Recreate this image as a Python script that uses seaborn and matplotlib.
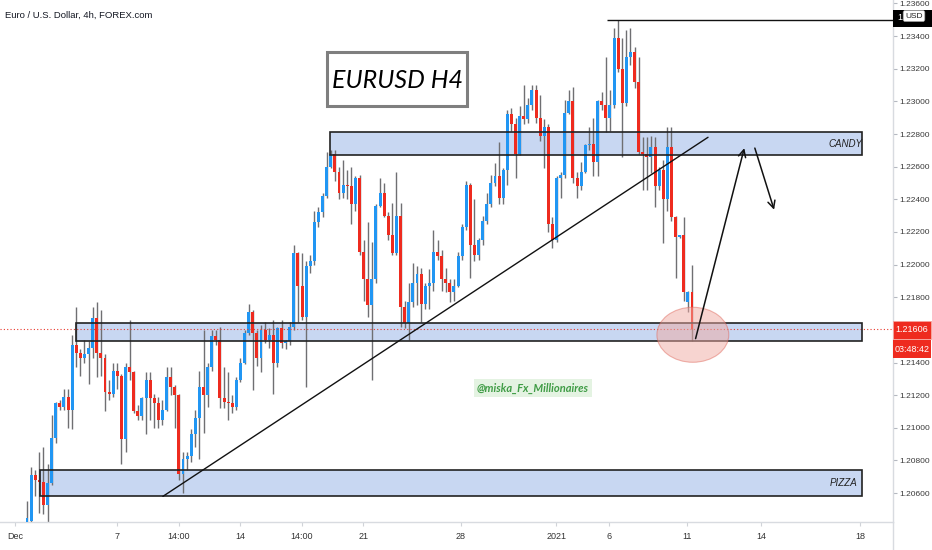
import matplotlib
matplotlib.use("Agg")
import matplotlib.pyplot as plt
import seaborn as sns
import numpy as np
import pandas as pd
from matplotlib.patches import Rectangle, Ellipse

# ---------------- data (EURUSD 4h candles) ----------------
opens = [1.2041,1.2043,1.2071,1.2068,1.2067,1.2053,1.2066,1.2094,1.2115,1.2113,
         1.2119,1.2111,1.2151,1.2146,1.2143,1.2145,1.2149,1.2167,1.2146,1.2143,
         1.2122,1.2121,1.2135,1.2132,1.2093,1.2137,1.2134,1.2110,1.2107,1.2118,
         1.2129,1.2118,1.2115,1.2105,1.2111,1.2131,1.2125,1.2120,1.2072,1.2081,
         1.2083,1.2096,1.2106,1.2125,1.2120,1.2137,1.2156,1.2154,1.2118,1.2116,
         1.2115,1.2113,1.2129,1.2140,1.2158,1.2171,1.2158,1.2143,1.2160,1.2154,
         1.2157,1.2140,1.2161,1.2152,1.2153,1.2162,1.2207,1.2187,1.2168,1.2199,
         1.2202,1.2226,1.2232,1.2242,1.2260,1.2268,1.2257,1.2244,1.2249,1.2248,
         1.2237,1.2253,1.2208,1.2191,1.2175,1.2191,1.2236,1.2244,1.2230,1.2218,
         1.2207,1.2230,1.2174,1.2164,1.2177,1.2189,1.2194,1.2176,1.2187,1.2189,
         1.2208,1.2205,1.2191,1.2189,1.2183,1.2187,1.2205,1.2223,1.2249,1.2212,
         1.2206,1.2215,1.2227,1.2237,1.2250,1.2254,1.2241,1.2258,1.2292,1.2286,
         1.2268,1.2291,1.2289,1.2298,1.2307,1.2290,1.2279,1.2284,1.2225,1.2215,
         1.2253,1.2255,1.2293,1.2300,1.2253,1.2248,1.2257,1.2273,1.2274,1.2263,
         1.2300,1.2298,1.2290,1.2298,1.2339,1.2320,1.2299,1.2327,1.2330,1.2312,
         1.2269,1.2268,1.2266,1.2272,1.2248,1.2258,1.2240,1.2272,1.2229,1.2217,
         1.2218,1.2177,1.2183]
highs = [1.2055,1.2076,1.2074,1.2085,1.2088,1.2078,1.2108,1.2116,1.2117,1.2124,
         1.2124,1.2157,1.2174,1.2148,1.2154,1.2153,1.2174,1.2177,1.2172,1.2145,
         1.2129,1.2140,1.2140,1.2133,1.2140,1.2166,1.2135,1.2114,1.2119,1.2134,
         1.2134,1.2121,1.2119,1.2117,1.2137,1.2137,1.2126,1.2121,1.2085,1.2085,
         1.2099,1.2111,1.2135,1.2160,1.2140,1.2160,1.2160,1.2162,1.2137,1.2134,
         1.2120,1.2131,1.2143,1.2160,1.2176,1.2172,1.2160,1.2163,1.2165,1.2161,
         1.2166,1.2162,1.2166,1.2154,1.2165,1.2212,1.2208,1.2207,1.2202,1.2206,
         1.2233,1.2235,1.2244,1.2269,1.2270,1.2270,1.2260,1.2264,1.2258,1.2260,
         1.2254,1.2255,1.2215,1.2226,1.2214,1.2237,1.2253,1.2250,1.2232,1.2238,
         1.2257,1.2238,1.2178,1.2189,1.2201,1.2199,1.2198,1.2189,1.2197,1.2221,
         1.2215,1.2209,1.2198,1.2191,1.2191,1.2208,1.2225,1.2251,1.2250,1.2240,
         1.2216,1.2230,1.2244,1.2255,1.2262,1.2275,1.2259,1.2295,1.2296,1.2290,
         1.2297,1.2310,1.2302,1.2310,1.2310,1.2304,1.2289,1.2286,1.2229,1.2254,
         1.2257,1.2301,1.2307,1.2309,1.2257,1.2263,1.2274,1.2284,1.2290,1.2301,
         1.2306,1.2327,1.2307,1.2345,1.2350,1.2339,1.2344,1.2345,1.2333,1.2327,
         1.2278,1.2278,1.2279,1.2278,1.2260,1.2264,1.2284,1.2284,1.2230,1.2218,
         1.2229,1.2184,1.2200]
lows = [1.2040,1.2042,1.2058,1.2048,1.2047,1.2042,1.2065,1.2091,1.2111,1.2111,
        1.2100,1.2099,1.2137,1.2132,1.2140,1.2127,1.2143,1.2131,1.2132,1.2110,
        1.2117,1.2119,1.2124,1.2078,1.2085,1.2129,1.2109,1.2105,1.2105,1.2096,
        1.2105,1.2100,1.2100,1.2102,1.2110,1.2120,1.2100,1.2068,1.2060,1.2074,
        1.2079,1.2088,1.2081,1.2097,1.2113,1.2135,1.2151,1.2112,1.2112,1.2105,
        1.2109,1.2111,1.2128,1.2139,1.2157,1.2123,1.2138,1.2134,1.2152,1.2149,
        1.2121,1.2137,1.2149,1.2148,1.2151,1.2160,1.2165,1.2166,1.2125,1.2195,
        1.2200,1.2223,1.2229,1.2241,1.2259,1.2251,1.2240,1.2241,1.2240,1.2225,
        1.2233,1.2206,1.2178,1.2168,1.2129,1.2189,1.2235,1.2229,1.2215,1.2206,
        1.2206,1.2162,1.2161,1.2154,1.2174,1.2175,1.2165,1.2173,1.2173,1.2184,
        1.2203,1.2184,1.2183,1.2177,1.2178,1.2186,1.2203,1.2221,1.2192,1.2202,
        1.2203,1.2212,1.2225,1.2235,1.2248,1.2237,1.2237,1.2249,1.2282,1.2253,
        1.2267,1.2286,1.2287,1.2295,1.2287,1.2276,1.2259,1.2220,1.2210,1.2214,
        1.2241,1.2253,1.2292,1.2250,1.2241,1.2246,1.2256,1.2270,1.2254,1.2254,
        1.2295,1.2281,1.2282,1.2296,1.2318,1.2266,1.2297,1.2322,1.2308,1.2268,
        1.2246,1.2246,1.2256,1.2235,1.2246,1.2213,1.2233,1.2227,1.2192,1.2216,
        1.2178,1.2171,1.2153]
closes = [1.2045,1.2071,1.2068,1.2067,1.2053,1.2066,1.2094,1.2115,1.2113,1.2119,
          1.2111,1.2151,1.2146,1.2143,1.2145,1.2149,1.2167,1.2146,1.2143,1.2122,
          1.2121,1.2135,1.2132,1.2093,1.2137,1.2134,1.2110,1.2107,1.2118,1.2129,
          1.2118,1.2115,1.2105,1.2111,1.2131,1.2125,1.2120,1.2072,1.2081,1.2083,
          1.2096,1.2106,1.2125,1.2120,1.2137,1.2156,1.2154,1.2118,1.2116,1.2115,
          1.2113,1.2129,1.2140,1.2158,1.2171,1.2158,1.2143,1.2160,1.2154,1.2157,
          1.2140,1.2161,1.2152,1.2153,1.2162,1.2207,1.2187,1.2168,1.2199,1.2202,
          1.2226,1.2232,1.2242,1.2260,1.2268,1.2257,1.2244,1.2249,1.2248,1.2237,
          1.2253,1.2208,1.2191,1.2175,1.2191,1.2236,1.2244,1.2230,1.2218,1.2207,
          1.2230,1.2174,1.2164,1.2177,1.2189,1.2194,1.2176,1.2187,1.2189,1.2208,
          1.2205,1.2191,1.2189,1.2183,1.2187,1.2205,1.2223,1.2249,1.2212,1.2206,
          1.2215,1.2227,1.2237,1.2250,1.2254,1.2241,1.2258,1.2292,1.2286,1.2268,
          1.2291,1.2289,1.2298,1.2307,1.2290,1.2279,1.2284,1.2225,1.2215,1.2253,
          1.2255,1.2293,1.2300,1.2253,1.2248,1.2257,1.2273,1.2274,1.2263,1.2300,
          1.2298,1.2290,1.2298,1.2339,1.2320,1.2299,1.2327,1.2330,1.2312,1.2269,
          1.2268,1.2266,1.2272,1.2248,1.2258,1.2240,1.2272,1.2229,1.2217,1.2218,
          1.2183,1.2183,1.21606]

x_tick_labels = ["Dec", "7", "14:00", "14", "14:00", "21", "28", "2021", "6", "11", "14", "18"]
x_tick_pos = [-2.9, 21.9, 37.0, 51.9, 67.0, 81.9, 105.7, 128.9, 141.8, 160.8, 178.8, 202.9]
# 1.21600 is hidden behind the last-price label in the reference
price_ticks = [1.206, 1.208, 1.210, 1.212, 1.214, 1.218, 1.220,
               1.222, 1.224, 1.226, 1.228, 1.230, 1.232, 1.234, 1.236]

last_price = 1.21606
countdown = "03:48:42"
candy_zone = (1.2267, 1.2281)
mid_zone = (1.2153, 1.2164)
pizza_zone = (1.2058, 1.2074)
resistance_top = 1.2350
trend_x = [33.1, 165.9]
trend_y = [1.2058, 1.2278]

# ---------------- style ----------------
sns.set_theme(style="white")
plt.rcParams["font.family"] = ["Liberation Sans", "DejaVu Sans"]

BLUE = "#2196f3"
RED = "#ee2b1f"
WICK = "#6f6f72"

fig = plt.figure(figsize=(9.32, 5.5), dpi=100)
W, H = 932.0, 550.0
ax = fig.add_axes([0, 28 / H, 893 / W, 522 / H])
ax.set_facecolor("white")

df = pd.DataFrame({"open": opens, "high": highs, "low": lows, "close": closes})
df["i"] = np.arange(len(df))
up = df["close"] >= df["open"]
colors = np.where(up, BLUE, RED)

# zones (fill behind candles, outline above)
x_right_zone = 203.4
for (lo, hi), x0 in [(candy_zone, 73.8), (mid_zone, 11.9), (pizza_zone, 3.2)]:
    ax.add_patch(Rectangle((x0, lo), x_right_zone - x0, hi - lo,
                           facecolor="#c8d7f2", edgecolor="none", zorder=1))
    ax.add_patch(Rectangle((x0, lo), x_right_zone - x0, hi - lo,
                           facecolor="none", edgecolor="#222222", lw=1.2, zorder=5))

ax.vlines(df["i"], df["low"], df["high"], color=WICK, lw=1.0, zorder=2)
body = np.maximum((df["close"] - df["open"]).abs(), 0.00004)
ax.bar(df["i"], body, bottom=np.minimum(df["open"], df["close"]),
       width=0.72, color=colors, linewidth=0, zorder=3)

# trend line
sns.lineplot(x=trend_x, y=trend_y, ax=ax, color="#111111", lw=1.0, zorder=6)

# resistance line at top
ax.hlines(resistance_top, 141.3, 215, color="#111111", lw=1.0, zorder=6)

# current price dotted line
ax.axhline(last_price, color="#e8392e", lw=0.8, ls=(0, (1, 2)), zorder=4)

# red ellipse
ax.add_patch(Ellipse((162.2, 1.2157), 17.5, 0.00337, facecolor="#f0aaa2",
                     alpha=0.5, edgecolor="#e06c60", lw=0.8, zorder=7))

# arrows
ax.annotate("", xy=(174.9, 1.2273), xytext=(162.7, 1.2153),
            arrowprops=dict(arrowstyle="->", color="#111111", lw=1.1, mutation_scale=13),
            zorder=8)
ax.annotate("", xy=(182.2, 1.2232), xytext=(177.1, 1.2273),
            arrowprops=dict(arrowstyle="->", color="#111111", lw=1.1, mutation_scale=13),
            zorder=8)

# zone labels
ax.text(199.3, 1.2274, "CANDY", style="italic", fontsize=7, ha="center",
        va="center", color="#222222", zorder=9)
ax.text(199.0, 1.2066, "PIZZA", style="italic", fontsize=7, ha="center",
        va="center", color="#222222", zorder=9)

# axes setup
ax.set_xlim(-6.58, 210.96)
ax.set_ylim(1.20423, 1.23621)
ax.yaxis.tick_right()
ax.set_yticks(price_ticks)
ax.set_yticklabels([f"{p:.5f}" for p in price_ticks])
ax.set_xticks(x_tick_pos)
ax.set_xticklabels(x_tick_labels)
ax.tick_params(axis="y", right=True, left=False, length=3, width=0.8, color="#b5b8c0",
               pad=1.5, labelsize=6, labelcolor="#3a3a3a")
ax.tick_params(axis="x", bottom=True, length=3, width=0.8, color="#d0d3d8",
               pad=4, labelsize=6.5, labelcolor="#333333")
ax.grid(False)
for s in ["top", "left"]:
    ax.spines[s].set_visible(False)
ax.spines["right"].set_color("#d8dbe0")
ax.spines["bottom"].set_color("#d8dbe0")
ax.spines["right"].set_linewidth(1.0)
ax.spines["bottom"].set_linewidth(1.0)

# right-axis separator extending into the bottom strip
fig.add_artist(plt.Line2D([893 / W, 893 / W], [0, 28 / H], color="#d8dbe0", lw=1.0,
                          transform=fig.transFigure))

def ylab(y_px):
    return 1 - y_px / H

# price labels on right axis
fig.add_artist(Rectangle((893 / W, ylab(339)), 38 / W, 18 / H, facecolor="#ee2b1f",
                         edgecolor="#f6a49d", lw=0.6, transform=fig.transFigure))
fig.text(912 / W, ylab(330), f"{last_price:.5f}", color="white", fontsize=6.5,
         ha="center", va="center")
fig.add_artist(Rectangle((893 / W, ylab(358)), 38 / W, 18 / H, facecolor="#ee2b1f",
                         edgecolor="none", transform=fig.transFigure))
fig.text(912 / W, ylab(349), countdown, color="white", fontsize=6.5,
         ha="center", va="center")

# black label for top line with USD tag
fig.add_artist(Rectangle((893 / W, ylab(27)), 39 / W, 17 / H, facecolor="black",
                         edgecolor="none", transform=fig.transFigure))
fig.text(897 / W, ylab(18), "1", color="white", fontsize=6.5, ha="left", va="center")
fig.text(914 / W, ylab(16), "USD", color="#222222", fontsize=6, ha="center", va="center",
         bbox=dict(boxstyle="round,pad=0.25", facecolor="white", edgecolor="#999999", lw=0.5))

# title box
fig.add_artist(Rectangle((327 / W, ylab(106)), 140 / W, 54 / H, facecolor="white",
                         edgecolor="#7f7f7f", lw=2.2, transform=fig.transFigure))
fig.text(397 / W, ylab(80), "EURUSD H4", fontsize=18, style="italic",
         family=["Lato", "DejaVu Sans"], ha="center", va="center", color="black")

# watermark
fig.text(533 / W, ylab(388), "@miska_Fx_Millionaires", fontsize=8, style="italic",
         weight="bold", color="#3f9c45", ha="center", va="center",
         family=["Lato", "DejaVu Sans"],
         bbox=dict(boxstyle="square,pad=0.3", facecolor="#e4f3e2", edgecolor="none"))

# header
fig.text(5 / W, ylab(15), "Euro / U.S. Dollar, 4h, FOREX.com", fontsize=6.8,
         ha="left", va="center", color="#131722")

fig.savefig("out.png", dpi=100, facecolor="white")
